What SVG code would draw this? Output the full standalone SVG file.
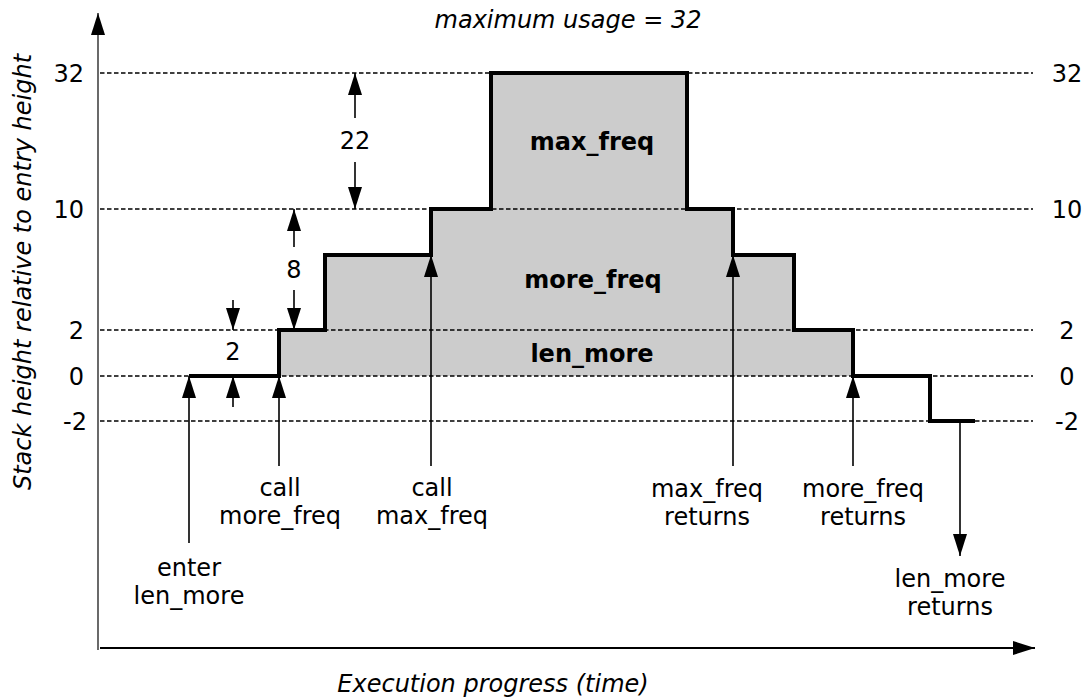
<svg xmlns="http://www.w3.org/2000/svg" width="1085" height="700" viewBox="0 0 1085 700">
  <defs>
    <marker id="head" viewBox="0 0 22 14" refX="22" refY="7" markerWidth="22" markerHeight="14" markerUnits="userSpaceOnUse" orient="auto">
      <path d="M0,0 L22,7 L0,14 z" fill="#000"/>
    </marker>
    <style>
      text { font-family: "DejaVu Sans", Verdana, sans-serif; font-size: 24px; fill: #000; }
      .it { font-style: italic; }
      .bold { font-weight: bold; }
      .mid { text-anchor: middle; }
      .end { text-anchor: end; }
      .grid { stroke: #000; stroke-width: 1.7; stroke-dasharray: 4.5 2.5; fill: none; }
      .arrow { stroke: #000; stroke-width: 1.6; fill: none; marker-end: url(#head); }
      .step { stroke: #000; stroke-width: 4; fill: none; stroke-linejoin: miter; }
    </style>
  </defs>
  <rect width="1085" height="700" fill="#fff"/>

  <!-- area under the stack curve -->
  <path id="stack-area" d="M279,376 V330 H325 V255 H431 V209 H491 V73 H687 V209 H733 V255 H794 V330 H853 V376 Z" fill="#cccccc"/>

  <!-- reference levels -->
  <g id="levels">
    <line class="grid" x1="100" y1="73" x2="1033" y2="73"/>
    <line class="grid" x1="100" y1="209" x2="1033" y2="209"/>
    <line class="grid" x1="100" y1="330" x2="1033" y2="330"/>
    <line class="grid" x1="100" y1="376" x2="1033" y2="376"/>
    <line class="grid" x1="100" y1="421" x2="1033" y2="421"/>
    <text class="end" x="84" y="82">32</text>
    <text class="end" x="84" y="218">10</text>
    <text class="end" x="84" y="339">2</text>
    <text class="end" x="84" y="385">0</text>
    <text class="end" x="87" y="430">-2</text>
    <text class="mid" x="1067" y="82">32</text>
    <text class="mid" x="1067" y="218">10</text>
    <text class="mid" x="1067" y="339">2</text>
    <text class="mid" x="1067" y="385">0</text>
    <text class="mid" x="1067" y="430">-2</text>
  </g>

  <!-- stack height over time -->
  <path id="stack-curve" class="step" d="M189,376 H279 V330 H325 V255 H431 V209 H491 V73 H687 V209 H733 V255 H794 V330 H853 V376 H930 V421 H975"/>

  <g id="frame-max_freq"><text class="bold mid" x="592" y="150">max_freq</text></g>
  <g id="frame-more_freq"><text class="bold mid" x="593" y="288">more_freq</text></g>
  <g id="frame-len_more"><text class="bold mid" x="592" y="362">len_more</text></g>

  <!-- axes -->
  <g id="axes">
    <line x1="98" y1="650" x2="98" y2="13" stroke="#444" stroke-width="1.6" marker-end="url(#head)"/>
    <line x1="100" y1="648" x2="1035" y2="648" stroke="#000" stroke-width="2" marker-end="url(#head)"/>
    <text class="it mid" transform="translate(31,272) rotate(-90)">Stack height relative to entry height</text>
    <text class="it mid" x="568" y="28">maximum usage = 32</text>
    <text class="it mid" x="493" y="692">Execution progress (time)</text>
  </g>

  <!-- connectors: events and size dimensions -->
  <g id="connectors">
    <line class="arrow" x1="189" y1="543" x2="189" y2="376"/>
    <line class="arrow" x1="279" y1="466" x2="279" y2="376"/>
    <line class="arrow" x1="431" y1="466" x2="431" y2="255"/>
    <line class="arrow" x1="733" y1="466" x2="733" y2="255"/>
    <line class="arrow" x1="853" y1="466" x2="853" y2="376"/>
    <line class="arrow" x1="960" y1="421" x2="960" y2="556"/>
    <line class="arrow" x1="355" y1="118" x2="355" y2="73"/>
    <line class="arrow" x1="355" y1="162" x2="355" y2="209"/>
    <line class="arrow" x1="294" y1="247" x2="294" y2="209"/>
    <line class="arrow" x1="294" y1="290" x2="294" y2="330"/>
    <line class="arrow" x1="233" y1="300" x2="233" y2="330"/>
    <line class="arrow" x1="233" y1="407" x2="233" y2="376"/>
  </g>

  <!-- dimension values -->
  <g id="dimensions">
    <text class="mid" x="355" y="149">22</text>
    <text class="mid" x="294" y="278">8</text>
    <text class="mid" x="233" y="360">2</text>
  </g>

  <!-- event labels -->
  <g id="event-enter"><text class="mid" x="189" y="576">enter</text><text class="mid" x="189" y="604">len_more</text></g>
  <g id="event-call-more"><text class="mid" x="280" y="496">call</text><text class="mid" x="280" y="524">more_freq</text></g>
  <g id="event-call-max"><text class="mid" x="432" y="496">call</text><text class="mid" x="432" y="524">max_freq</text></g>
  <g id="event-max-ret"><text class="mid" x="707" y="497">max_freq</text><text class="mid" x="707" y="525">returns</text></g>
  <g id="event-more-ret"><text class="mid" x="863" y="497">more_freq</text><text class="mid" x="863" y="525">returns</text></g>
  <g id="event-len-ret"><text class="mid" x="950" y="587">len_more</text><text class="mid" x="950" y="615">returns</text></g>
</svg>
